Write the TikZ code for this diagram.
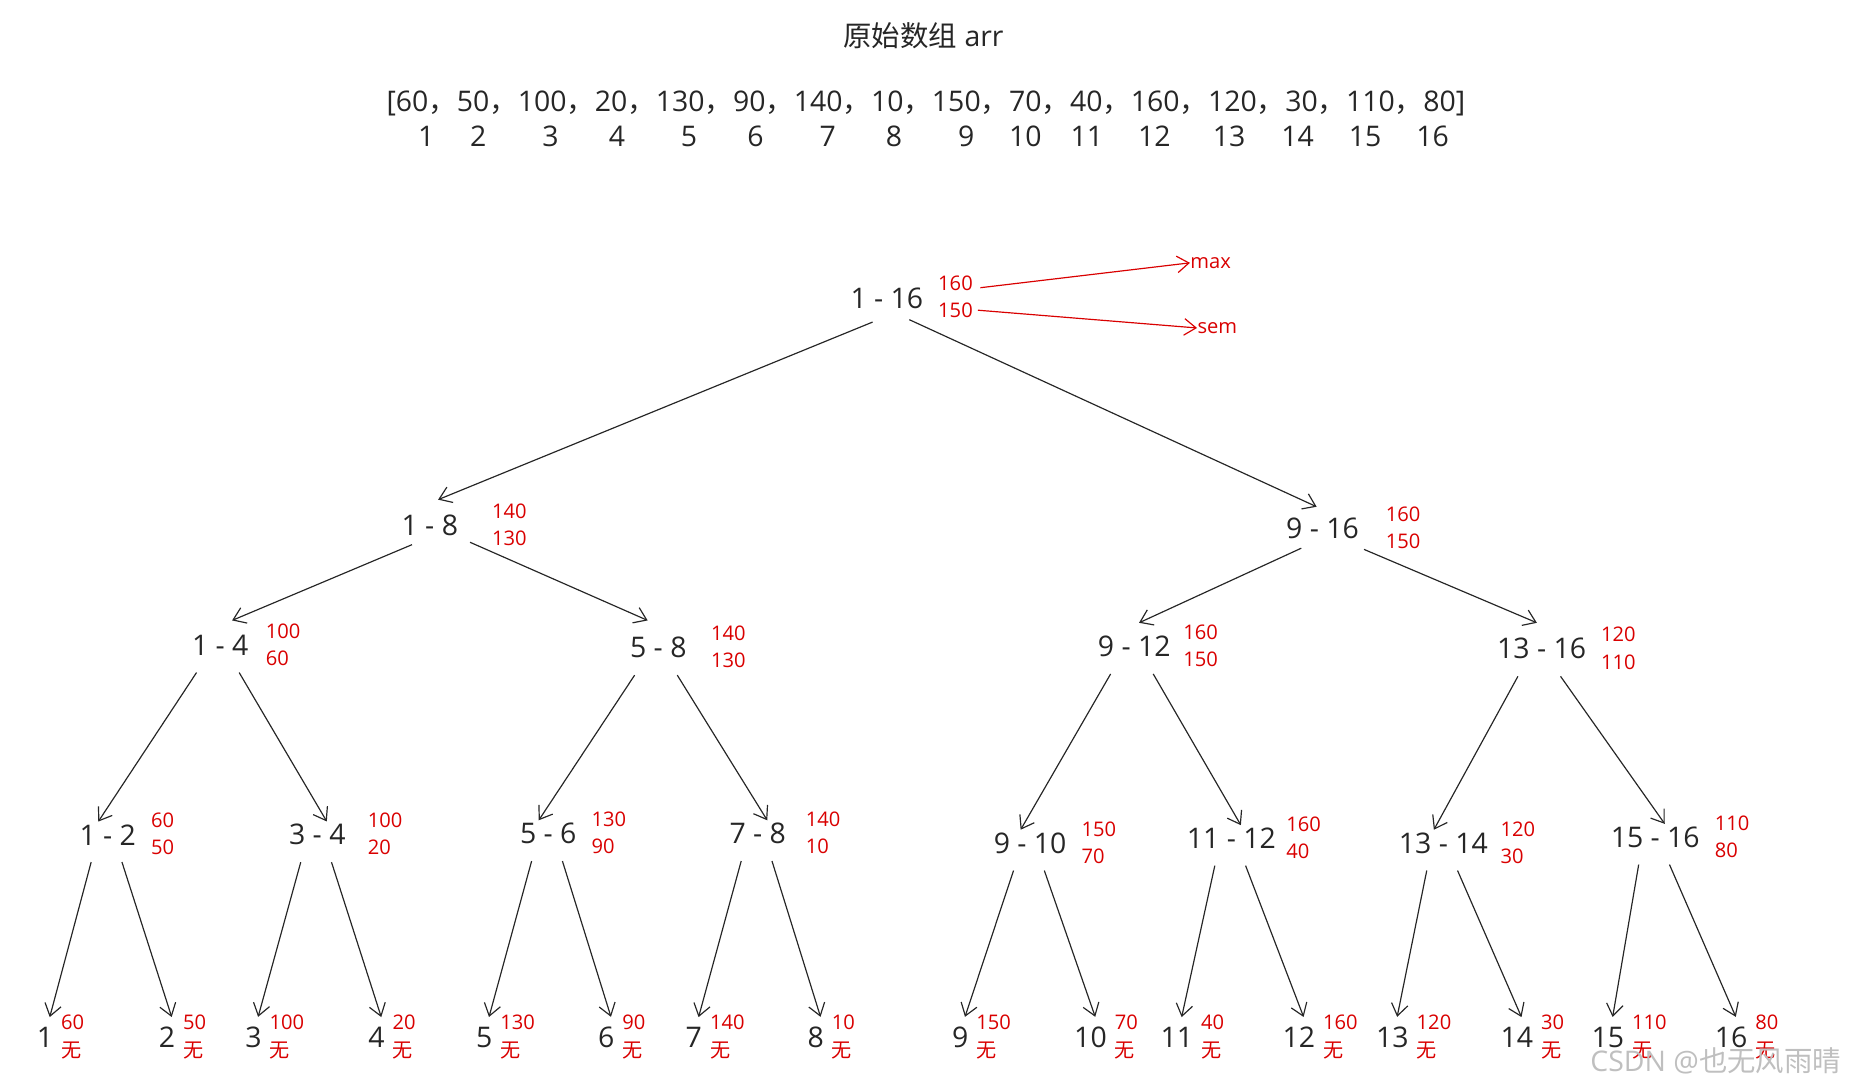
\documentclass[tikz,border=0pt]{standalone}
\usepackage{fontspec}
\setmainfont{Open Sans}
\newfontfamily\cjk{Noto Sans CJK SC}
\usetikzlibrary{arrows.meta}

\tikzset{
  rangelbl/.style={font=\fontsize{12}{14}\selectfont, text=black!85, inner sep=1pt},
  redval/.style={font=\fontsize{8.5}{10}\selectfont, text=red!85!black, inner sep=0pt, anchor=west},
  edge/.style={->, black!85, line width=0.5pt},
}

\begin{document}
\begin{tikzpicture}[x=0.5pt, y=-0.5pt, >={Straight Barb[length=5pt,width=7pt]}]
\useasboundingbox (0,0) rectangle (1565,920);

% Title and array
\node[rangelbl] (title) at (780,30) {{\cjk 原始数组} arr};
\node[rangelbl] (arr) at (782,87) {[60{\cjk ，}50{\cjk ，}100{\cjk ，}20{\cjk ，}130{\cjk ，}90{\cjk ，}140{\cjk ，}10{\cjk ，}150{\cjk ，}70{\cjk ，}40{\cjk ，}160{\cjk ，}120{\cjk ，}30{\cjk ，}110{\cjk ，}80]};
\foreach \i/\x in {1/360,2/404,3/465,4/521,5/582,6/638,7/699,8/755,9/816,10/866,11/918,12/975,13/1038,14/1096,15/1153,16/1210}
  \node[rangelbl] (idx\i) at (\x,115) {\i};

% Root
\node[rangelbl] (r) at (749,252) {1 - 16};
\node[redval] (rmax) at (792,239) {160};
\node[redval] (rsem) at (792,262) {150};
\node[redval] (maxlbl) at (1005,222) {max};
\node[redval] (semlbl) at (1011,277) {sem};
\draw[->, red!85!black, line width=0.5pt] ([xshift=3pt,yshift=-2pt]rmax.east) -- (maxlbl.west);
\draw[->, red!85!black, line width=0.5pt] ([xshift=2pt]rsem.east) -- (semlbl.west);

% Internal nodes: name/x/y/label/max/sem/gap
\foreach \n/\x/\y/\t/\a/\b/\g in {
  a/363/444/1 - 8/140/130/13, b/1117/446/9 - 16/160/150/10,
  aa/186/545/1 - 4/100/60/6, ab/556/547/5 - 8/140/130/9,
  ba/958/546/9 - 12/160/150/4, bb/1302/548/13 - 16/120/110/5,
  c1/91/705/1 - 2/60/50/5, c2/268/705/3 - 4/100/20/8,
  c3/463/704/5 - 6/130/90/5, c4/640/704/7 - 8/140/10/7,
  c5/870/712/9 - 10/150/70/5, c6/1040/708/11 - 12/160/40/3,
  c7/1219/712/13 - 14/120/30/4, c8/1398/707/15 - 16/110/80/5}{
  \node[rangelbl] (\n) at (\x,\y) {\t};
  \node[redval, xshift=\g pt, yshift=6pt] at (\n.east) {\a};
  \node[redval, xshift=\g pt, yshift=-5.5pt] at (\n.east) {\b};
}

% Leaves
\foreach \i/\x/\v in {1/38/60,2/141/50,3/214/100,4/318/20,5/409/130,6/512/90,7/586/140,8/689/10,
  9/811/150,10/921/70,11/994/40,12/1097/160,13/1176/120,14/1281/30,15/1358/110,16/1462/80}{
  \node[rangelbl] (l\i) at (\x,876) {\i};
  \node[redval, xshift=2pt, yshift=6.5pt] at (l\i.east) {\v};
  \node[redval, xshift=2pt, yshift=-5.5pt] at (l\i.east) {\cjk 无};
}

% Edges
\draw[edge] (737,272) -- (370,422);
\draw[edge] (768,270) -- (1112,428);
\draw[edge] (348,460) -- (196,524);
\draw[edge] (397,458) -- (547,524);
\draw[edge] (1099,463) -- (962,526);
\draw[edge] (1152,464) -- (1298,526);
\foreach \p/\l/\r in {aa/c1/c2, ab/c3/c4, ba/c5/c6, bb/c7/c8}{
  \draw[edge] ([xshift=-10pt,yshift=-6pt]\p.south) -- ([xshift=-4pt]\l.north);
  \draw[edge] ([xshift=8pt,yshift=-6pt]\p.south) -- ([xshift=4pt]\r.north);
}
\foreach \p/\l/\r in {c1/1/2, c2/3/4, c3/5/6, c4/7/8, c5/9/10, c6/11/12, c7/13/14, c8/15/16}{
  \draw[edge] ([xshift=-7pt,yshift=-6pt]\p.south) -- ([xshift=2pt,yshift=3pt]l\l.north);
  \draw[edge] ([xshift=6pt,yshift=-6pt]\p.south) -- ([xshift=2pt,yshift=3pt]l\r.north);
}

% Watermark
\node[font=\fontsize{12}{14}\selectfont, text=black!25, anchor=east] (mark) at (1562,896) {CSDN @{\cjk 也无风雨晴}};
\end{tikzpicture}
\end{document}
